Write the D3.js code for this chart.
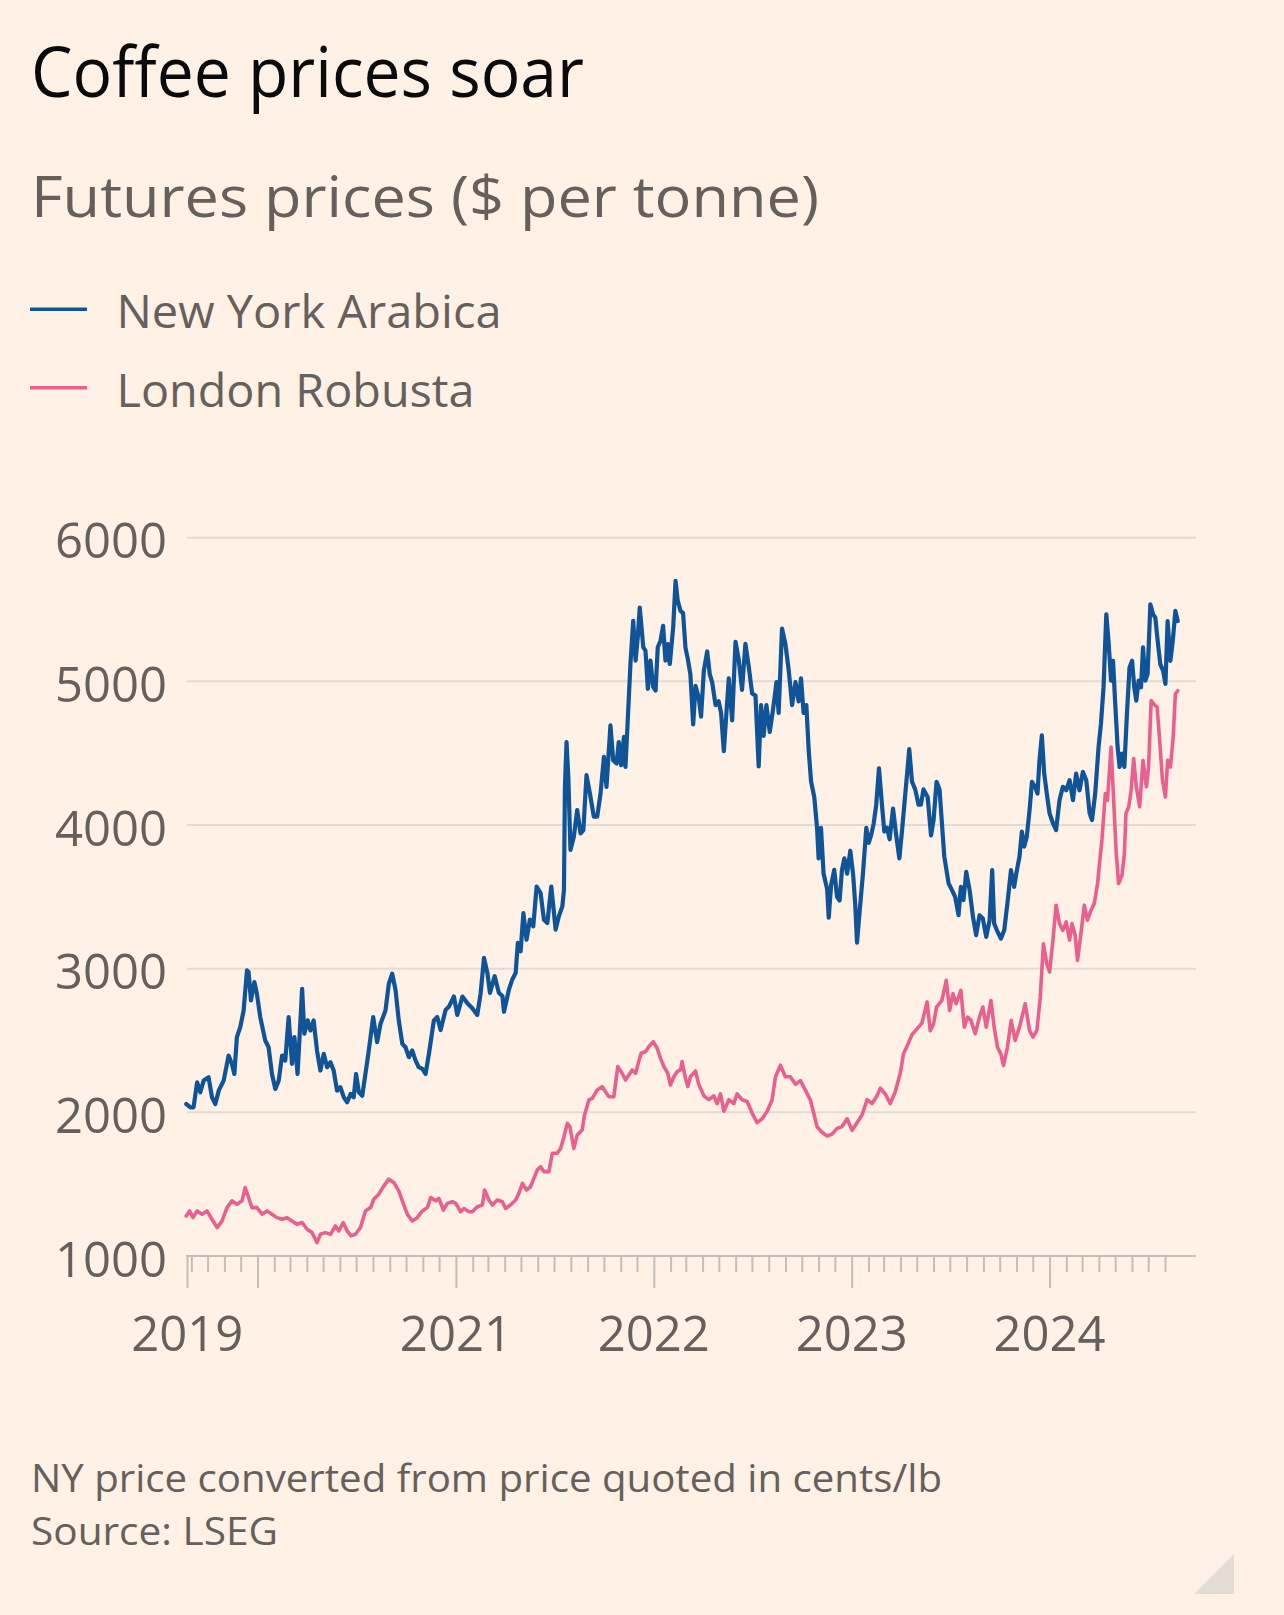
<!DOCTYPE html>
<html><head><meta charset="utf-8">
<script src="https://cdn.jsdelivr.net/npm/d3@7"></script>
<style>
html,body{margin:0;padding:0;background:#FFF1E5;}
svg{display:block;}
text{font-family:'Open Sans',sans-serif;}
</style></head><body>
<svg id="chart" width="1284" height="1615"></svg>
<script>
// ---- DATA (dates as decimal years, values in $ per tonne) ----
const arabicaDates = [
2019.640,2019.661,2019.677,2019.695,2019.711,2019.728,2019.753,2019.770,2019.787,2019.804,
2019.829,2019.854,2019.871,2019.883,2019.896,2019.913,2019.930,2019.947,2019.955,2019.967,
2019.984,2019.997,2020.014,2020.039,2020.056,2020.073,2020.090,2020.107,2020.124,2020.140,
2020.157,2020.174,2020.186,2020.202,2020.225,2020.236,2020.253,2020.267,2020.283,2020.300,
2020.317,2020.334,2020.351,2020.368,2020.384,2020.401,2020.418,2020.435,2020.452,2020.469,
2020.485,2020.497,2020.511,2020.528,2020.544,2020.561,2020.583,2020.603,2020.620,2020.645,
2020.662,2020.679,2020.696,2020.712,2020.730,2020.746,2020.763,2020.780,2020.797,2020.813,
2020.831,2020.847,2020.864,2020.889,2020.906,2020.923,2020.948,2020.965,2020.990,2021.007,
2021.033,2021.058,2021.083,2021.108,2021.125,2021.142,2021.159,2021.172,2021.196,2021.217,
2021.235,2021.243,2021.268,2021.285,2021.302,2021.313,2021.327,2021.341,2021.357,2021.374,
2021.391,2021.408,2021.428,2021.445,2021.462,2021.482,2021.504,2021.520,2021.538,2021.546,
2021.551,2021.559,2021.568,2021.579,2021.596,2021.613,2021.630,2021.644,2021.660,2021.677,
2021.697,2021.714,2021.731,2021.748,2021.761,2021.781,2021.795,2021.812,2021.823,2021.835,
2021.849,2021.857,2021.874,2021.882,2021.896,2021.908,2021.919,2021.929,2021.947,2021.958,
2021.970,2021.983,2021.997,2022.009,2022.020,2022.034,2022.047,2022.059,2022.071,2022.081,
2022.098,2022.110,2022.121,2022.135,2022.148,2022.160,2022.172,2022.185,2022.199,2022.211,
2022.227,2022.239,2022.253,2022.270,2022.283,2022.295,2022.312,2022.328,2022.340,2022.354,
2022.367,2022.379,2022.396,2022.413,2022.429,2022.446,2022.463,2022.480,2022.497,2022.514,
2022.530,2022.542,2022.555,2022.569,2022.586,2022.603,2022.620,2022.631,2022.648,2022.665,
2022.682,2022.699,2022.716,2022.732,2022.744,2022.757,2022.771,2022.783,2022.795,2022.811,
2022.825,2022.833,2022.845,2022.858,2022.876,2022.884,2022.896,2022.912,2022.926,2022.939,
2022.951,2022.963,2022.977,2022.993,2023.007,2023.018,2023.027,2023.040,2023.057,2023.074,
2023.086,2023.098,2023.111,2023.124,2023.138,2023.153,2023.165,2023.179,2023.192,2023.209,
2023.225,2023.241,2023.254,2023.266,2023.280,2023.291,2023.305,2023.321,2023.338,2023.350,
2023.363,2023.384,2023.401,2023.414,2023.429,2023.444,2023.468,2023.490,2023.507,2023.523,
2023.540,2023.552,2023.565,2023.579,2023.596,2023.613,2023.629,2023.646,2023.663,2023.680,
2023.697,2023.710,2023.720,2023.734,2023.754,2023.771,2023.787,2023.805,2023.821,2023.835,
2023.848,2023.860,2023.872,2023.885,2023.899,2023.911,2023.927,2023.939,2023.949,2023.961,
2023.973,2023.986,2024.000,2024.017,2024.033,2024.050,2024.067,2024.084,2024.101,2024.118,
2024.134,2024.151,2024.168,2024.185,2024.202,2024.214,2024.230,2024.247,2024.259,2024.272,
2024.286,2024.297,2024.310,2024.320,2024.331,2024.343,2024.353,2024.365,2024.377,2024.390,
2024.403,2024.416,2024.427,2024.437,2024.449,2024.461,2024.471,2024.483,2024.494,2024.508,
2024.522,2024.533,2024.545,2024.558,2024.572,2024.584,2024.595,2024.609,2024.621,2024.634,
2024.646];
const arabicaValues = [
2058,2035,2035,2209,2140,2221,2244,2105,2058,2151,
2221,2395,2337,2267,2523,2593,2709,2988,2977,2779,
2907,2826,2663,2500,2453,2267,2163,2221,2395,2360,
2663,2337,2523,2267,2860,2547,2640,2570,2640,2430,
2291,2407,2314,2349,2291,2151,2174,2105,2070,2128,
2105,2267,2140,2116,2267,2430,2663,2488,2616,2709,
2895,2965,2849,2640,2477,2453,2384,2430,2360,2314,
2302,2267,2407,2640,2663,2573,2713,2736,2806,2678,
2806,2759,2724,2678,2829,3075,2971,2832,2948,2832,
2809,2700,2855,2925,2971,3179,3121,3387,3202,3341,
3295,3572,3526,3341,3318,3572,3272,3364,3434,3549,
4266,4578,4335,3827,3919,4104,3942,3965,4347,4220,
4058,4058,4220,4474,4266,4694,4451,4428,4578,4416,
4613,4405,4890,5121,5422,5145,5306,5514,5237,5214,
4948,5145,4960,4936,5237,5283,5387,5145,5260,5121,
5376,5699,5561,5491,5475,5235,5155,5048,4701,4968,
4888,4755,5075,5208,5048,4995,4835,4861,4781,4515,
4781,5021,4728,5275,5155,4941,5261,5101,4915,4901,
4408,4835,4621,4835,4648,4808,4995,4781,5368,5261,
5075,4835,4995,4861,5021,4781,4835,4515,4301,4195,
3981,3768,3981,3661,3555,3355,3581,3688,3501,3475,
3688,3768,3661,3821,3661,3448,3181,3395,3661,3981,
3875,3928,4008,4141,4395,4141,3955,3981,3901,4115,
3928,3768,3955,4141,4355,4528,4301,4248,4141,4141,
4248,4195,3928,4035,4301,4248,3781,3593,3547,3500,
3372,3570,3477,3674,3547,3360,3233,3372,3349,3221,
3337,3686,3314,3267,3209,3267,3453,3686,3570,3686,
3779,3954,3850,3919,4104,4300,4266,4219,4450,4624,
4358,4219,4081,4012,3965,4173,4266,4242,4312,4173,
4358,4242,4370,4312,4081,4035,4219,4543,4704,4958,
5467,5282,5005,5143,4843,4543,4404,4497,4404,4774,
5097,5143,4958,4866,5005,4958,5236,5005,5051,5536,
5467,5443,5282,5120,5074,4982,5420,5143,5282,5490,
5420];

const robustaDates = [
2019.640,2019.657,2019.674,2019.695,2019.720,2019.745,2019.770,2019.796,2019.821,2019.846,
2019.871,2019.896,2019.922,2019.938,2019.955,2019.972,2019.997,2020.023,2020.048,2020.073,
2020.098,2020.124,2020.149,2020.174,2020.199,2020.225,2020.250,2020.275,2020.300,2020.317,
2020.342,2020.368,2020.393,2020.410,2020.432,2020.452,2020.472,2020.494,2020.519,2020.544,
2020.570,2020.586,2020.611,2020.637,2020.662,2020.687,2020.712,2020.730,2020.755,2020.780,
2020.805,2020.831,2020.856,2020.873,2020.898,2020.914,2020.937,2020.957,2020.982,2020.999,
2021.024,2021.041,2021.066,2021.083,2021.108,2021.134,2021.145,2021.167,2021.184,2021.209,
2021.235,2021.251,2021.276,2021.302,2021.318,2021.336,2021.357,2021.377,2021.394,2021.411,
2021.428,2021.445,2021.470,2021.487,2021.512,2021.529,2021.546,2021.563,2021.576,2021.596,
2021.613,2021.638,2021.650,2021.672,2021.689,2021.714,2021.739,2021.756,2021.773,2021.798,
2021.818,2021.840,2021.857,2021.874,2021.891,2021.908,2021.924,2021.936,2021.958,2021.975,
2021.997,2022.017,2022.034,2022.051,2022.071,2022.084,2022.101,2022.118,2022.135,2022.143,
2022.160,2022.172,2022.185,2022.211,2022.227,2022.253,2022.278,2022.303,2022.320,2022.337,
2022.354,2022.379,2022.404,2022.421,2022.446,2022.472,2022.497,2022.522,2022.547,2022.573,
2022.598,2022.615,2022.640,2022.665,2022.690,2022.716,2022.741,2022.766,2022.791,2022.808,
2022.825,2022.850,2022.876,2022.901,2022.926,2022.951,2022.977,2023.002,2023.027,2023.052,
2023.078,2023.103,2023.128,2023.145,2023.170,2023.195,2023.220,2023.246,2023.262,2023.280,
2023.305,2023.330,2023.355,2023.381,2023.397,2023.414,2023.429,2023.456,2023.478,2023.495,
2023.512,2023.528,2023.552,2023.569,2023.586,2023.603,2023.624,2023.646,2023.663,2023.680,
2023.704,2023.720,2023.737,2023.754,2023.767,2023.787,2023.806,2023.826,2023.848,2023.877,
2023.899,2023.916,2023.936,2023.953,2023.969,2023.986,2024.000,2024.017,2024.033,2024.050,
2024.067,2024.084,2024.101,2024.113,2024.129,2024.141,2024.158,2024.175,2024.191,2024.209,
2024.225,2024.242,2024.255,2024.264,2024.281,2024.292,2024.310,2024.323,2024.336,2024.348,
2024.365,2024.377,2024.385,2024.399,2024.411,2024.424,2024.437,2024.454,2024.471,2024.488,
2024.499,2024.512,2024.525,2024.542,2024.555,2024.569,2024.584,2024.595,2024.609,2024.623,
2024.634,2024.646];
const robustaValues = [
1279,1314,1267,1314,1291,1314,1256,1198,1244,1337,
1384,1360,1384,1477,1407,1337,1337,1291,1314,1291,
1267,1256,1267,1244,1221,1233,1186,1163,1093,1151,
1163,1151,1209,1174,1233,1174,1140,1151,1198,1314,
1337,1395,1430,1488,1535,1512,1453,1384,1291,1244,
1267,1314,1337,1407,1384,1401,1320,1366,1378,1366,
1308,1331,1308,1308,1343,1355,1459,1390,1355,1390,
1378,1331,1355,1390,1436,1506,1459,1482,1540,1598,
1622,1587,1587,1715,1715,1749,1830,1923,1900,1749,
1842,1877,1981,2086,2097,2156,2179,2144,2109,2109,
2318,2272,2225,2260,2295,2272,2353,2411,2422,2457,
2492,2446,2376,2318,2272,2190,2248,2283,2295,2353,
2237,2179,2248,2288,2195,2115,2088,2115,2061,2128,
2008,2088,2061,2128,2088,2075,1995,1928,1955,2008,
2088,2248,2328,2248,2248,2195,2221,2155,2088,1995,
1901,1861,1835,1848,1888,1901,1955,1875,1928,1981,
2088,2061,2115,2168,2128,2061,2141,2275,2408,2461,
2541,2581,2621,2768,2568,2616,2733,2779,2919,2709,
2826,2756,2849,2593,2663,2640,2547,2663,2733,2593,
2779,2593,2453,2407,2326,2453,2640,2500,2593,2756,
2570,2523,2570,2802,3174,3035,2977,3198,3442,3314,
3267,3326,3198,3314,3233,3058,3244,3442,3337,3407,
3453,3593,3779,3896,4219,4173,4543,4173,3804,3593,
3650,3800,4081,4127,4242,4462,4266,4127,4450,4266,
4404,4866,4843,4820,4589,4312,4196,4450,4404,4612,
4912,4935];

const seriesNames = ["New York Arabica", "London Robusta"];
const seriesColors = ["#0f5499", "#e9608f"];
const yTickValues = [1000, 2000, 3000, 4000, 5000, 6000];
const xMajorYears = [2020, 2021, 2022, 2023, 2024];
const xLabelTexts = ["2019", "2021", "2022", "2023", "2024"];
const xLabelPositions = [2019.6455, 2021, 2022, 2023, 2024];
const domainStart = "2019-08-24", domainEnd = "2024-08-24";
const titleText = "Coffee prices soar";
const subtitleText = "Futures prices ($ per tonne)";
const noteText = "NY price converted from price quoted in cents/lb";
const sourceText = "Source: LSEG";

// ---- helpers ----
function decYearToDate(t){
  const y = Math.floor(t);
  const a = new Date(y,0,1), b = new Date(y+1,0,1);
  return new Date(a.getTime() + (t - y) * (b - a));
}
const parse = d3.timeParse("%Y-%m-%d");

const svg = d3.select("#chart");
svg.append("rect").attr("width",1284).attr("height",1615).attr("fill","#FFF1E5");

const x = d3.scaleTime().domain([parse(domainStart), parse(domainEnd)]).range([187, 1177.5]);
const y = d3.scaleLinear().domain([1000, 6000]).range([1256, 537.7]);
const gridRight = 1196;
const textGrey = "#66605c";

function fitText(sel, w){ sel.attr("textLength", w).attr("lengthAdjust","spacingAndGlyphs"); }
fitText(svg.append("text").attr("x",31).attr("y",96.7).attr("font-size",70).attr("fill","#0a0a0a").text(titleText), 553);
fitText(svg.append("text").attr("x",31).attr("y",216.7).attr("font-size",56).attr("fill",textGrey).text(subtitleText), 788);

// legend
const legY = [309.3, 387.7], legTextY = [328.3, 407.3], legW = [385, 358];
seriesNames.forEach((n,i)=>{
  svg.append("line").attr("x1",30).attr("x2",87).attr("y1",legY[i]).attr("y2",legY[i])
    .attr("stroke",seriesColors[i]).attr("stroke-width",3.5);
  fitText(svg.append("text").attr("x",116.5).attr("y",legTextY[i]).attr("font-size",46).attr("fill",textGrey).text(n), legW[i]);
});

// gridlines
svg.append("g").selectAll("line").data(yTickValues.filter(v=>v>1000)).join("line")
  .attr("x1",187).attr("x2",gridRight).attr("y1",d=>y(d)).attr("y2",d=>y(d))
  .attr("stroke","#e2dbd4").attr("stroke-width",2);

// y labels
svg.append("g").selectAll("text").data(yTickValues).join("text")
  .attr("x",167).attr("y",d=>y(d)+20.6).attr("text-anchor","end")
  .attr("font-size",49).attr("fill",textGrey).text(d=>d);

// x axis ticks via d3 axes
const start = parse(domainStart), end = parse(domainEnd);
const majorDates = [start].concat(xMajorYears.map(yr=>new Date(yr,0,1)));
const minorDates = d3.timeMonth.range(start, end).filter(d=>d.getMonth()!==0);
const axisColor = "#c4beb8";
const gMinor = svg.append("g").attr("transform","translate(0,1256)")
  .call(d3.axisBottom(x).tickValues(minorDates).tickSize(16).tickSizeOuter(0).tickFormat(""));
const gMajor = svg.append("g").attr("transform","translate(0,1256)")
  .call(d3.axisBottom(x).tickValues(majorDates).tickSize(32).tickSizeOuter(0).tickFormat(""));
[gMinor,gMajor].forEach(g=>{
  g.select(".domain").remove();
  g.selectAll(".tick line").attr("stroke",axisColor).attr("stroke-width",2);
});
svg.append("line").attr("x1",186).attr("x2",gridRight).attr("y1",1256).attr("y2",1256)
  .attr("stroke",axisColor).attr("stroke-width",2.2);

// x labels
svg.append("g").selectAll("text").data(xLabelTexts).join("text")
  .attr("x",(d,i)=>x(decYearToDate(xLabelPositions[i]))).attr("y",1351)
  .attr("text-anchor","middle").attr("font-size",49).attr("fill",textGrey).text(d=>d);

// lines
const line = d3.line().x(d=>x(d.date)).y(d=>y(d.value));
const arabica = arabicaDates.map((t,i)=>({date:decYearToDate(t), value:arabicaValues[i]}));
const robusta = robustaDates.map((t,i)=>({date:decYearToDate(t), value:robustaValues[i]}));
svg.append("path").datum(robusta).attr("d",line).attr("fill","none")
  .attr("stroke",seriesColors[1]).attr("stroke-width",3.6).attr("stroke-linejoin","round").attr("stroke-linecap","round");
svg.append("path").datum(arabica).attr("d",line).attr("fill","none")
  .attr("stroke",seriesColors[0]).attr("stroke-width",4.2).attr("stroke-linejoin","round").attr("stroke-linecap","round");

// footnotes
fitText(svg.append("text").attr("x",31).attr("y",1491.7).attr("font-size",39).attr("fill",textGrey).text(noteText), 911);
fitText(svg.append("text").attr("x",31).attr("y",1545).attr("font-size",39).attr("fill",textGrey).text(sourceText), 247);

// corner mark
svg.append("path").attr("d","M1234,1554 L1234,1594 L1194,1594 Z").attr("fill","#e3dcd5");
</script>
</body></html>
